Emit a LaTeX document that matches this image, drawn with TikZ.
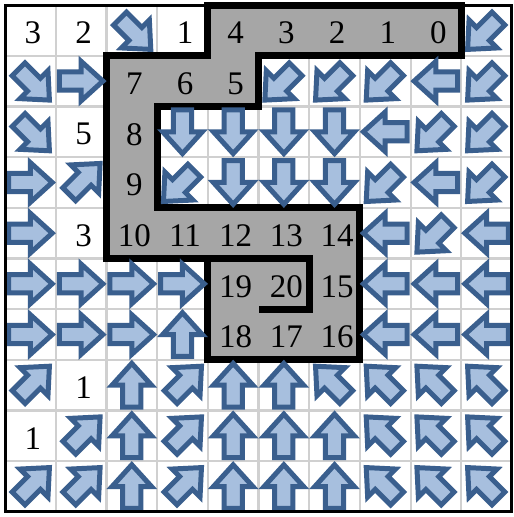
\documentclass[tikz,border=0pt]{standalone}
\usepackage{fontspec}
\setmainfont{Liberation Serif}
\definecolor{arrfill}{HTML}{A7BFDE}
\definecolor{arrline}{HTML}{3A5F8E}
\definecolor{gridgray}{HTML}{D0D0D0}
\definecolor{pathgray}{HTML}{A6A6A6}
\begin{document}
\begin{tikzpicture}[
  gridline/.style={gridgray,line width=1.2pt},
  blkarrow/.style={fill=arrfill,draw=arrline,line width=2.8pt,line join=miter},
  wall/.style={line width=3.9pt,line join=miter},
  num/.style={inner sep=0pt,font=\fontsize{18.5}{18.5}\selectfont}]
  \fill[white] (-0.1,0.1) rectangle (10.04,-10.1);
  \useasboundingbox (-0.1,0.1) rectangle (10.04,-10.1);
  \foreach \i in {1,...,9} {
    \draw[gridline] (\i,0) -- (\i,-10);
    \draw[gridline] (0,-\i) -- (10,-\i);
  }
  \filldraw[pathgray,draw=black,wall] (4,0) -- (9,0) -- (9,-1) -- (5,-1) -- (5,-2) -- (3,-2) -- (3,-4) -- (7,-4)
    -- (7,-7) -- (4,-7) -- (4,-5) -- (2,-5) -- (2,-1) -- (4,-1) -- cycle;
  \draw[wall] (4,-5) -- (6,-5) -- (6,-6) -- (5,-6);
  \foreach \row/\cells in {0/{2/-135,9/135},
      1/{0/-135,1/-90,5/135,6/135,7/135,8/90,9/135},
      2/{0/-135,3/180,4/180,5/180,6/180,7/90,8/135,9/135},
      3/{0/-90,1/-45,3/135,4/180,5/180,6/180,7/135,8/90,9/135},
      4/{0/-90,7/90,8/135,9/90},
      5/{0/-90,1/-90,2/-90,3/-90,7/90,8/90,9/90},
      6/{0/-90,1/-90,2/-90,3/0,7/90,8/90,9/90},
      7/{0/-45,2/0,3/-45,4/0,5/0,6/45,7/45,8/45,9/45},
      8/{1/-45,2/0,3/-45,4/0,5/0,6/0,7/45,8/45,9/45},
      9/{0/-45,1/-45,2/0,3/-45,4/0,5/0,6/0,7/45,8/45,9/45}} {
    \foreach \col/\ang in \cells {
      \pgfmathsetmacro\off{mod(abs(\ang),90)==0 ? 0 : 0.1}
      \draw[blkarrow,shift={(\col+.5,-\row-.5)},rotate=\ang,yshift=\off cm]
        (0,.43) -- (.39,0) -- (.18,0) -- (.18,-.43) -- (-.18,-.43) -- (-.18,0) -- (-.39,0) -- cycle;
    }
  }
  \foreach \col/\row/\txt in {0/0/3,1/0/2,3/0/1,4/0/4,5/0/3,6/0/2,7/0/1,8/0/0,
      2/1/7,3/1/6,4/1/5,1/2/5,2/2/8,2/3/9,
      1/4/3,2/4/10,3/4/11,4/4/12,5/4/13,6/4/14,
      4/5/19,5/5/20,6/5/15,4/6/18,5/6/17,6/6/16,
      1/7/1,0/8/1}
    \node[num] (n\col\row) at (\col+.55,-\row-.55) {\txt};
  \draw[line width=1.7pt] (0,0) rectangle (10,-10);
\end{tikzpicture}
\end{document}
